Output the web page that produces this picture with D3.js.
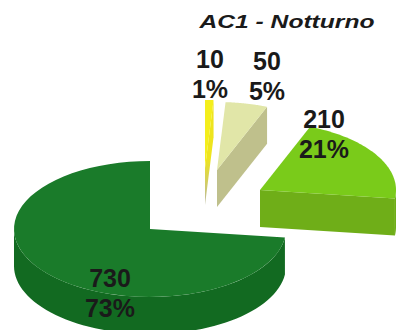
<!DOCTYPE html>
<html>
<head>
<meta charset="utf-8">
<script src="https://cdn.jsdelivr.net/npm/d3@7/dist/d3.min.js"></script>
<style>
  html, body { margin: 0; padding: 0; background: #fff; overflow: hidden; }
  svg { display: block; }
  text { font-family: "Liberation Sans", Arial, sans-serif; font-weight: bold; fill: #1a1a1a; text-anchor: middle; }
</style>
</head>
<body>
<svg id="chart" width="396" height="330"></svg>
<script>
// Slice values, clockwise from twelve o'clock
const values = [10, 50, 210, 730];
const percents = ["1%", "5%", "21%", "73%"];
const chartTitle = "AC1 - Notturno";

// Face colours per slice
const topColors = ["#f4ee1c", "#e1e6a8", "#7acb1a", "#1a7b2a"];
const sideColors = ["url(#thinSide)", "#bfc08c", "#6fae18", "#126a21"];

// Apex of each exploded slice
const apexX = [205, 217, 260, 150];
const apexY = [168, 170, 190, 229];
// Label anchor per slice
const labelX = [210, 267, 324, 110];
const labelY = [68, 70, 128, 287];

const radiusX = 136, radiusY = 68, depth = 37, lineGap = 29.5;

const svg = d3.select("#chart");
const pie = d3.pie().sort(null).value(d => d)(values);
const line = d3.line();

// The thinnest slice's cut face fades from yellow to grey downward
const fade = svg.append("defs").append("linearGradient")
  .attr("id", "thinSide").attr("x1", 0).attr("y1", 0).attr("x2", 0).attr("y2", 1);
fade.append("stop").attr("offset", "0.55").attr("stop-color", "#eee41e");
fade.append("stop").attr("offset", "1").attr("stop-color", "#b9b9a0");

// Project a pie angle onto the tilted ellipse around a slice's apex
const project = (i, angle, drop = 0) => [
  apexX[i] + radiusX * Math.sin(angle),
  apexY[i] - radiusY * Math.cos(angle) + drop
];
const sample = (a, b) => d3.range(0, 61).map(k => a + (b - a) * k / 60);

const marks = svg.append("g");
pie.forEach((slice, i) => {
  const { startAngle: a, endAngle: b } = slice;
  const g = marks.append("g");

  // Cut face along the slice's closing edge
  g.append("path")
    .attr("fill", sideColors[i])
    .attr("d", line([
      [apexX[i], apexY[i]],
      project(i, b),
      project(i, b, depth),
      [apexX[i], apexY[i] + depth]
    ]) + "Z");

  // Outer wall, only where the rim faces the viewer
  const wallFrom = Math.max(a, Math.PI / 2);
  const wallTo = Math.min(b, Math.PI * 1.5);
  if (wallTo > wallFrom) {
    const rim = sample(wallFrom, wallTo);
    g.append("path")
      .attr("fill", sideColors[i])
      .attr("d", line(rim.map(t => project(i, t))
        .concat(rim.slice().reverse().map(t => project(i, t, depth)))) + "Z");
  }

  // Top face
  g.append("path")
    .attr("fill", topColors[i])
    .attr("d", line([[apexX[i], apexY[i]]].concat(sample(a, b).map(t => project(i, t)))) + "Z");
});

// Value and percent labels
const labels = svg.append("g").style("font-size", "25px");
values.forEach((v, i) => {
  labels.append("text").attr("x", labelX[i]).attr("y", labelY[i]).text(v);
  labels.append("text").attr("x", labelX[i]).attr("y", labelY[i] + lineGap).text(percents[i]);
});

svg.append("text")
  .attr("x", 287).attr("y", 28)
  .attr("textLength", 175)
  .attr("lengthAdjust", "spacingAndGlyphs")
  .style("font-size", "19px")
  .style("font-style", "italic")
  .text(chartTitle);
</script>
</body>
</html>
